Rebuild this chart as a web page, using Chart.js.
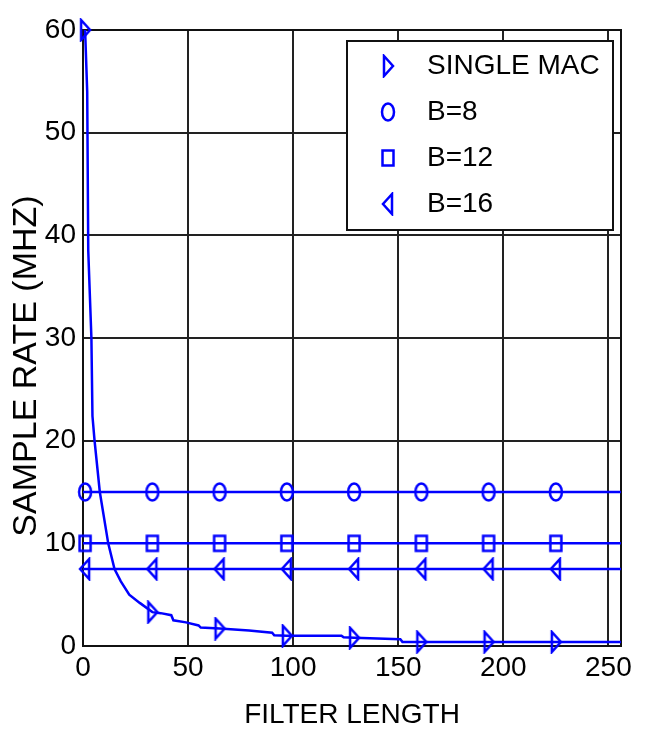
<!DOCTYPE html>
<html>
<head>
<meta charset="utf-8">
<script src="https://cdn.jsdelivr.net/npm/chart.js@4.4.0/dist/chart.umd.min.js"></script>
<style>
    html, body { margin: 0; padding: 0; background: #fff; }
    #wrap { width: 645px; height: 731px; }
</style>
</head>
<body>
<div id="wrap"><canvas id="rateChart" width="645" height="731"></canvas></div>
<script>
const SANS = "'Liberation Sans', Arial, sans-serif";
const BLUE = '#0000ff';
const TEXT_SIZE = 28;

// axis ticks
const xTicks = [0, 50, 100, 150, 200, 250];
const yTicks = [0, 10, 20, 30, 40, 50, 60];

// filter lengths where the markers sit
const markerLengths = [1, 33, 65, 97, 129, 161, 193, 225];

// single MAC curve
const macLengths = [1, 2, 2.5, 4, 4.5, 5.5, 8, 12, 15, 18, 22, 27, 33, 37, 42, 43, 49, 55, 56, 65,
                    79, 90, 91, 97, 123, 124, 129, 151, 152, 161, 193, 225, 256];
const macRates = [60, 54, 38.5, 30, 22.4, 20, 15, 10, 7.5, 6.3, 5.0, 4.2, 3.3, 3.2, 3.0, 2.5, 2.3, 2.0, 1.8, 1.7,
                  1.5, 1.3, 1.05, 1.0, 1.0, 0.85, 0.8, 0.65, 0.4, 0.4, 0.4, 0.4, 0.4];

// flat lines for the multi-bit versions
const flatLengths = [0, 1, 33, 65, 97, 129, 161, 193, 225, 256];
const b8Rates  = [15, 15, 15, 15, 15, 15, 15, 15, 15, 15];
const b12Rates = [10, 10, 10, 10, 10, 10, 10, 10, 10, 10];
const b16Rates = [7.5, 7.5, 7.5, 7.5, 7.5, 7.5, 7.5, 7.5, 7.5, 7.5];

// little hollow marker images (the original ones are taller than wide)
function makeMarker(kind) {
    const w = 16, h = 24;
    const c = document.createElement('canvas');
    c.width = w; c.height = h;
    const g = c.getContext('2d');
    g.strokeStyle = BLUE;
    g.lineWidth = 2.5;
    g.beginPath();
    if (kind === 'right') {
        g.moveTo(4, 2); g.lineTo(13, h / 2); g.lineTo(4, h - 2); g.closePath();
    } else if (kind === 'left') {
        g.moveTo(12, 2); g.lineTo(3, h / 2); g.lineTo(12, h - 2); g.closePath();
    } else if (kind === 'oct') {
        g.ellipse(w / 2, h / 2, 6, 8.5, 0, 0, Math.PI * 2);
    } else {
        g.rect(2.5, 4.5, 11, 15);
    }
    g.stroke();
    return c;
}
const mkRight = makeMarker('right');
const mkOct = makeMarker('oct');
const mkRect = makeMarker('rect');
const mkLeft = makeMarker('left');

function toPoints(xs, ys) {
    return xs.map((x, i) => ({ x: x, y: ys[i] }));
}
function onlyMarkers(ctx) {
    return ctx.raw && markerLengths.includes(ctx.raw.x) ? 7 : 0;
}

function lineSet(label, xs, ys, marker) {
    return {
        label: label,
        data: toPoints(xs, ys),
        borderColor: BLUE,
        borderWidth: 2.5,
        backgroundColor: BLUE,
        pointStyle: marker,
        pointRadius: onlyMarkers,
        pointHoverRadius: onlyMarkers,
        tension: 0,
        clip: false
    };
}

// frame round the plot
const framePlugin = {
    id: 'frame',
    beforeDatasetsDraw(chart) {
        const { ctx, chartArea: a } = chart;
        ctx.save();
        ctx.strokeStyle = '#111';
        ctx.lineWidth = 2;
        ctx.strokeRect(a.left, a.top, a.right - a.left, a.bottom - a.top);
        ctx.restore();
    }
};

// y title, sits a little below the middle in the original
const yTitlePlugin = {
    id: 'yTitle',
    afterDraw(chart) {
        const ctx = chart.ctx;
        ctx.save();
        ctx.translate(27, 366);
        ctx.rotate(-Math.PI / 2);
        ctx.font = '34px ' + SANS;
        ctx.fillStyle = '#000';
        ctx.textAlign = 'center';
        ctx.textBaseline = 'middle';
        ctx.fillText('SAMPLE RATE (MHZ)', 0, 0);
        ctx.restore();
    }
};

// boxed legend inside the plot, top right
const legendPlugin = {
    id: 'boxLegend',
    afterDraw(chart) {
        const ctx = chart.ctx;
        const box = { x: 347, y: 41, w: 266, h: 189 };
        ctx.save();
        ctx.fillStyle = '#fff';
        ctx.fillRect(box.x, box.y, box.w, box.h);
        ctx.strokeStyle = '#111';
        ctx.lineWidth = 2;
        ctx.strokeRect(box.x, box.y, box.w, box.h);
        ctx.font = TEXT_SIZE + 'px ' + SANS;
        ctx.fillStyle = '#000';
        ctx.textBaseline = 'middle';
        chart.data.datasets.forEach((ds, i) => {
            const rowY = 66 + i * 46;
            const img = ds.pointStyle;
            ctx.drawImage(img, 388 - img.width / 2, rowY - img.height / 2);
            ctx.fillText(ds.label, 427, rowY);
        });
        ctx.restore();
    }
};

const gridStyle = {
    color: '#222',
    lineWidth: 2,
    drawTicks: false
};

new Chart(document.getElementById('rateChart'), {
    type: 'line',
    data: {
        datasets: [
            lineSet('SINGLE MAC', macLengths, macRates, mkRight),
            lineSet('B=8', flatLengths, b8Rates, mkOct),
            lineSet('B=12', flatLengths, b12Rates, mkRect),
            lineSet('B=16', flatLengths, b16Rates, mkLeft)
        ]
    },
    options: {
        responsive: false,
        animation: false,
        layout: { padding: { top: 30, right: 24, bottom: 0, left: 0 } },
        plugins: {
            legend: { display: false },
            tooltip: { enabled: false }
        },
        scales: {
            x: {
                type: 'linear',
                min: 0,
                max: 256,
                afterBuildTicks: (scale) => { scale.ticks = xTicks.map(v => ({ value: v })); },
                afterFit: (scale) => { scale.height = 85; },
                grid: gridStyle,
                border: { display: true, color: '#111', width: 2 },
                ticks: {
                    font: { family: SANS, size: TEXT_SIZE },
                    color: '#000',
                    padding: 5,
                    maxRotation: 0,
                    autoSkip: false
                },
                title: {
                    display: true,
                    text: 'FILTER LENGTH',
                    font: { family: SANS, size: TEXT_SIZE, lineHeight: 1 },
                    color: '#000',
                    padding: { top: 0, bottom: 2 }
                }
            },
            y: {
                type: 'linear',
                min: 0,
                max: 60,
                afterBuildTicks: (scale) => { scale.ticks = yTicks.map(v => ({ value: v })); },
                afterFit: (scale) => { scale.width = 83; },
                grid: gridStyle,
                border: { display: true, color: '#111', width: 2 },
                ticks: {
                    font: { family: SANS, size: TEXT_SIZE },
                    color: '#000',
                    padding: 7
                }
            }
        }
    },
    plugins: [framePlugin, yTitlePlugin, legendPlugin]
});
</script>
</body>
</html>
